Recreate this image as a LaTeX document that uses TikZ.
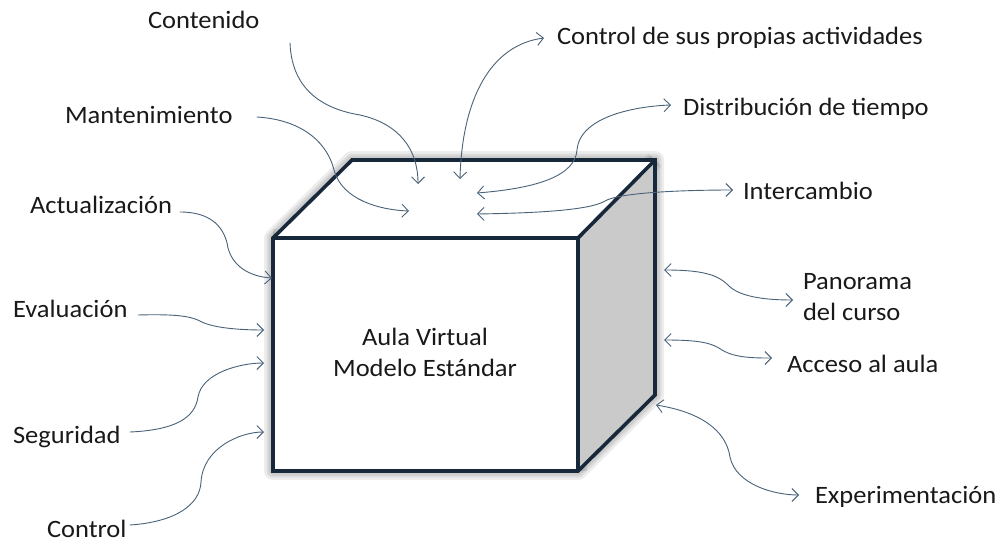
\documentclass[tikz,border=0pt]{standalone}
\usepackage{fontspec}
\setmainfont{Carlito}[FakeStretch=1.06]
\usetikzlibrary{arrows.meta}

\definecolor{edgenavy}{HTML}{17283A}
\definecolor{sidegray}{HTML}{CACACA}
\definecolor{linkblue}{HTML}{4A6278}

\tikzset{
  lbl/.style={inner sep=0pt, outer sep=0pt, font=\fontsize{25}{31}\selectfont, text=black!90},
  link/.style={draw=linkblue, line width=0.9pt, line cap=round,
    arrows={Straight Barb[length=6.5pt,width=13pt]-Straight Barb[length=6.5pt,width=13pt]}},
  inlink/.style={draw=linkblue, line width=0.9pt, line cap=round,
    arrows={-Straight Barb[length=6.5pt,width=13pt]}},
  boxedge/.style={draw=edgenavy, line width=3.6pt, line join=miter},
  glow/.style={draw=black, line join=round, opacity=0.07}
}

\begin{document}
\begin{tikzpicture}[x=1pt, y=-1pt]
  \useasboundingbox (0,0) rectangle (1006,543);

  % corners of the box
  \coordinate (ftl) at (273,238);
  \coordinate (ftr) at (578,238);
  \coordinate (fbr) at (578,471);
  \coordinate (fbl) at (273,471);
  \coordinate (btl) at (352,160);
  \coordinate (btr) at (655,160);
  \coordinate (bbr) at (655,395);

  % soft halo around the edges
  \foreach \w in {18,13,9} {
    \draw[glow, line width=\w pt] (ftl) -- (btl) -- (btr) -- (bbr) -- (fbr) -- (fbl) -- cycle;
    \draw[glow, line width=\w pt] (ftl) -- (ftr) -- (fbr) (ftr) -- (btr);
  }

  % faces
  \fill[white] (ftl) -- (ftr) -- (fbr) -- (fbl) -- cycle;
  \fill[white] (ftl) -- (btl) -- (btr) -- (ftr) -- cycle;
  \fill[sidegray] (ftr) -- (btr) -- (bbr) -- (fbr) -- cycle;

  % edges
  \draw[boxedge] (ftl) -- (btl) -- (btr) -- (bbr) -- (fbr) -- (fbl) -- cycle;
  \draw[boxedge] (ftl) -- (ftr) -- (fbr) (ftr) -- (btr);

  \node[lbl, align=center] (aula) at (425,352) {Aula Virtual\\Modelo Estándar};

  % labels
  \node[lbl, anchor=base west] (contenido) at (148,29) {Contenido};
  \node[lbl, anchor=base west] (mant) at (65,123) {Mantenimiento};
  \node[lbl, anchor=base west] (actual) at (30,213) {Actualización};
  \node[lbl, anchor=base west] (eval) at (13,317) {Evaluación};
  \node[lbl, anchor=base west] (seg) at (13,443) {Seguridad};
  \node[lbl, anchor=base west] (ctrl) at (47,537) {Control};
  \node[lbl, anchor=base west] (ctrlact) at (557,45) {Control de sus propias actividades};
  \node[lbl, anchor=base west] (dist) at (683,115) {Distribución de tiempo};
  \node[lbl, anchor=base west] (inter) at (743,199) {Intercambio};
  \node[lbl, anchor=north west, align=left] (pano) at (803,273) {Panorama\\del curso};
  \node[lbl, anchor=base west] (acceso) at (787,372) {Acceso al aula};
  \node[lbl, anchor=base west] (exper) at (815,503) {Experimentación};

  % connector ends
  \coordinate (contenidoS) at (290,43);
  \coordinate (contenidoE) at (418,184);
  \coordinate (mantS) at (257,117);
  \coordinate (mantE) at (409,211);
  \coordinate (ctrlactA) at (460,179);
  \coordinate (ctrlactB) at (544,38);
  \coordinate (distA) at (477,193);
  \coordinate (distB) at (671,105);
  \coordinate (interA) at (477,214);
  \coordinate (interB) at (733,190);
  \coordinate (actualS) at (180,212);
  \coordinate (actualE) at (272,278);
  \coordinate (evalS) at (138,315);
  \coordinate (evalE) at (264,330);
  \coordinate (segS) at (130,432);
  \coordinate (segE) at (264,363);
  \coordinate (ctrlS) at (130,525);
  \coordinate (ctrlE) at (264,432);
  \coordinate (panoA) at (664,270);
  \coordinate (panoB) at (793,300);
  \coordinate (accesoA) at (664,340);
  \coordinate (accesoB) at (772,358);
  \coordinate (experA) at (656,405);
  \coordinate (experB) at (799,495);

  % connectors pointing into the box
  \draw[inlink] (contenidoS) .. controls (292,95) and (330,110) .. (360,115)
                             .. controls (400,124) and (418,150) .. (contenidoE);
  \draw[inlink] (mantS) .. controls (305,120) and (328,145) .. (334,170)
                        .. controls (342,200) and (380,210) .. (mantE);
  \draw[inlink] (actualS) .. controls (212,212) and (225,228) .. (228,248)
                          .. controls (234,270) and (255,277) .. (actualE);
  \draw[inlink] (evalS) .. controls (175,314) and (190,316) .. (200,321)
                        .. controls (212,328) and (240,330) .. (evalE);
  \draw[inlink] (segS) .. controls (175,430) and (195,418) .. (198,397)
                       .. controls (202,373) and (240,363) .. (segE);
  \draw[inlink] (ctrlS) .. controls (175,522) and (200,505) .. (201,482)
                        .. controls (203,448) and (240,432) .. (ctrlE);

  % two-way connectors
  \draw[link] (ctrlactA) .. controls (462,100) and (490,45) .. (ctrlactB);
  \draw[link] (distA) .. controls (540,188) and (575,175) .. (577,150)
                      .. controls (580,115) and (640,106) .. (distB);
  \draw[link] (interA) .. controls (540,213) and (590,210) .. (605,201)
                       .. controls (620,192) and (690,190) .. (interB);
  \draw[link] (panoA) .. controls (700,270) and (717,274) .. (728,285)
                      .. controls (740,298) and (770,300) .. (panoB);
  \draw[link] (accesoA) .. controls (700,340) and (712,343) .. (722,350)
                        .. controls (735,358) and (755,358) .. (accesoB);
  \draw[link] (experA) .. controls (700,412) and (726,430) .. (730,457)
                       .. controls (736,485) and (775,495) .. (experB);
\end{tikzpicture}
\end{document}
